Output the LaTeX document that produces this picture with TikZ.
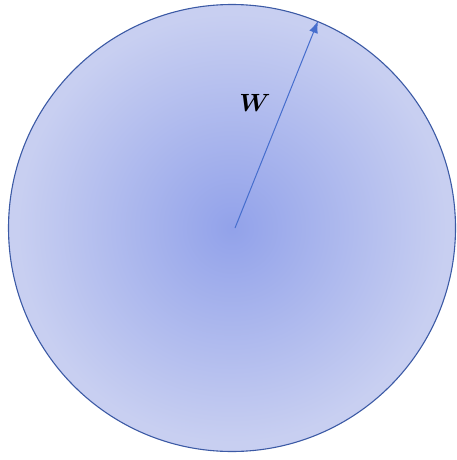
\documentclass[tikz,border=0pt]{standalone}
\usetikzlibrary{arrows.meta}
\definecolor{cin}{RGB}{146,162,234}
\definecolor{cout}{RGB}{200,207,241}
\definecolor{rim}{RGB}{60,90,165}
\definecolor{arr}{RGB}{70,110,205}
\pgfdeclareradialshading{myrad}{\pgfpoint{0bp}{0bp}}{color(0bp)=(cin); color(24bp)=(cout); color(50bp)=(cout)}
\tikzset{
  disc/.style={circle, draw=rim, line width=1.1pt, shading=myrad, minimum size=447pt, inner sep=0pt},
  radius arrow/.style={draw=arr, line width=1pt, -{Latex[length=12pt,width=9pt]}},
  lbl/.style={font=\fontsize{36}{40}\selectfont\boldmath, inner sep=0pt}
}
\begin{document}
\begin{tikzpicture}[x=1pt,y=-1pt]
\useasboundingbox (0,0) rectangle (457,460);
\node[disc] (disc) at (232,228) {};
\coordinate (ctr) at (235,228);
\coordinate (tip) at (318,21);
\draw[radius arrow] (ctr) -- (tip);
\node[lbl] (w) at (255,103) {$W$};
\end{tikzpicture}
\end{document}
